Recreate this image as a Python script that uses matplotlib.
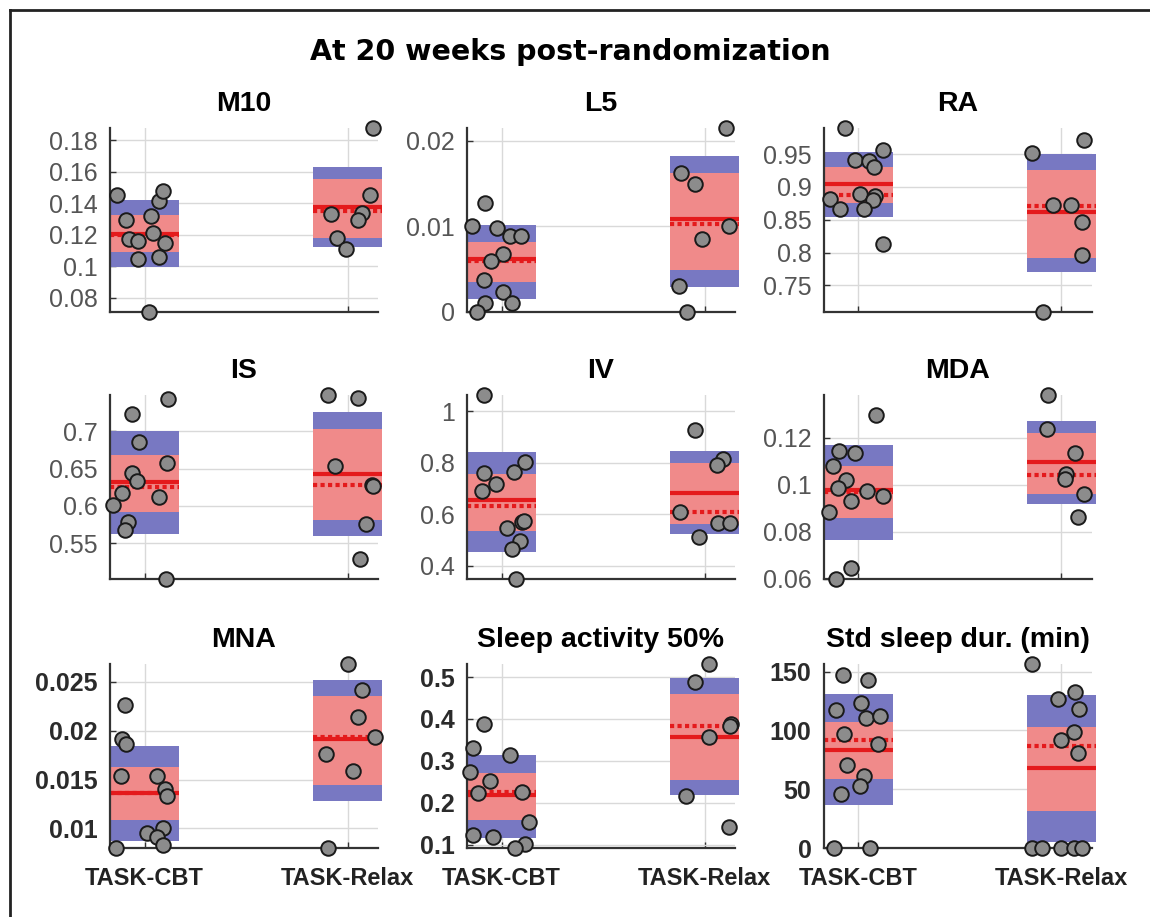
import matplotlib
matplotlib.use("Agg")
import matplotlib.pyplot as plt
from matplotlib.lines import Line2D

plt.rcParams['font.family'] = ['Liberation Sans', 'DejaVu Sans']

# group labels
groups = ["TASK-CBT", "TASK-Relax"]

# panel titles
titles = ["M10", "L5", "RA", "IS", "IV", "MDA", "MNA", "Sleep activity 50%", "Std sleep dur. (min)"]

# y ticks per panel
yticks = [
    [0.08, 0.1, 0.12, 0.14, 0.16, 0.18],
    [0, 0.01, 0.02],
    [0.75, 0.8, 0.85, 0.9, 0.95],
    [0.55, 0.6, 0.65, 0.7],
    [0.4, 0.6, 0.8, 1],
    [0.06, 0.08, 0.1, 0.12],
    [0.01, 0.015, 0.02, 0.025],
    [0.1, 0.2, 0.3, 0.4, 0.5],
    [0, 50, 100, 150],
]

# individual values (CBT, Relax) and their horizontal jitter
cbt_vals = [
    [0.145, 0.1296, 0.117, 0.116, 0.1046, 0.132, 0.121, 0.1415, 0.148, 0.115, 0.1056, 0.071],
    [0.0100, 0.0127, 0.0098, 0.0089, 0.0089, 0.0068, 0.0060, 0.0037, 0.0023, 0.0011, 0.0010, 0.0],
    [0.99, 0.941, 0.94, 0.93, 0.957, 0.882, 0.866, 0.89, 0.887, 0.88, 0.866, 0.8135],
    [0.723, 0.743, 0.6854, 0.6575, 0.6434, 0.6336, 0.6168, 0.601, 0.6124, 0.578, 0.5673, 0.5018],
    [1.064, 0.759, 0.691, 0.717, 0.765, 0.804, 0.547, 0.569, 0.575, 0.496, 0.467, 0.349],
    [0.1295, 0.1144, 0.1133, 0.1081, 0.1018, 0.0987, 0.0973, 0.0951, 0.0931, 0.0882, 0.0643, 0.0598],
    [0.0226, 0.0191, 0.0186, 0.0154, 0.0154, 0.0140, 0.0133, 0.00956, 0.0100, 0.0091, 0.0083, 0.0080],
    [0.387, 0.332, 0.3145, 0.274, 0.253, 0.223, 0.227, 0.155, 0.1235, 0.118, 0.1025, 0.0924],
    [146.7, 143, 117, 123.5, 110.4, 112.4, 97, 88, 70.5, 61.3, 52.4, 46, 0, 0],
]
cbt_jit = [
    [-0.135, -0.091, -0.075, -0.03, -0.03, 0.03, 0.04, 0.07, 0.09, 0.10, 0.07, 0.02],
    [-0.146, -0.082, -0.024, 0.04, 0.098, 0.005, -0.053, -0.087, 0.005, -0.082, 0.05, -0.121],
    [-0.067, -0.018, 0.05, 0.075, 0.12, -0.141, -0.091, 0.007, 0.08, 0.07, 0.026, 0.12],
    [-0.062, 0.116, -0.027, 0.11, -0.062, -0.037, -0.111, -0.155, 0.07, -0.081, -0.096, 0.106],
    [-0.087, -0.087, -0.097, -0.029, 0.059, 0.117, 0.025, 0.10, 0.11, 0.093, 0.054, 0.069],
    [0.085, -0.096, -0.018, -0.126, -0.062, -0.101, 0.041, 0.12, -0.038, -0.145, -0.038, -0.111],
    [-0.096, -0.111, -0.091, -0.116, 0.06, 0.10, 0.11, 0.01, 0.09, 0.06, 0.09, -0.14],
    [-0.087, -0.141, 0.04, -0.155, -0.058, -0.116, 0.103, 0.137, -0.141, -0.043, 0.117, 0.064],
    [-0.077, 0.046, -0.111, 0.012, 0.036, 0.105, -0.072, 0.095, -0.057, 0.026, 0.007, -0.087, -0.121, 0.056],
]
relax_vals = [
    [0.1877, 0.145, 0.133, 0.134, 0.129, 0.118, 0.111],
    [0.0215, 0.0162, 0.0150, 0.0085, 0.0100, 0.0030, 0.0],
    [0.972, 0.952, 0.872, 0.872, 0.846, 0.796, 0.7095],
    [0.7487, 0.744, 0.653, 0.628, 0.627, 0.575, 0.528],
    [0.928, 0.814, 0.791, 0.609, 0.5115, 0.567, 0.567],
    [0.1382, 0.1238, 0.1133, 0.1046, 0.1025, 0.0959, 0.0864],
    [0.0268, 0.0241, 0.0214, 0.0193, 0.0176, 0.0159, 0.0080],
    [0.531, 0.487, 0.387, 0.383, 0.356, 0.217, 0.1415],
    [156.4, 127, 132.7, 118, 98.5, 92, 81, 0, 0, 0, 0, 0],
]
relax_jit = [
    [0.125, 0.11, -0.08, 0.07, 0.05, -0.05, -0.01],
    [0.106, -0.118, -0.045, -0.01, 0.12, -0.128, -0.084],
    [0.11, -0.145, -0.042, 0.047, 0.10, 0.10, -0.09],
    [-0.096, 0.05, -0.062, 0.12, 0.125, 0.09, 0.06],
    [-0.045, 0.09, 0.063, -0.123, -0.026, 0.067, 0.126],
    [-0.066, -0.071, 0.067, 0.022, 0.018, 0.11, 0.08],
    [0.0, 0.07, 0.05, 0.135, -0.106, 0.027, -0.096],
    [0.02, -0.045, 0.13, 0.127, 0.02, -0.093, 0.12],
    [-0.144, -0.017, 0.067, 0.086, 0.062, -0.002, 0.082, -0.144, -0.095, -0.002, 0.062, 0.1],
]

# summary stats: (sd_lo, sd_hi, ci_lo, ci_hi, mean, median)
cbt_stats = [
    (0.0992, 0.142, 0.1092, 0.1327, 0.1206, 0.1196),
    (0.00154, 0.0102, 0.00346, 0.0082, 0.0062, 0.0059),
    (0.8535, 0.9535, 0.876, 0.93, 0.9045, 0.8885),
    (0.5628, 0.70, 0.5916, 0.6686, 0.6314, 0.6257),
    (0.455, 0.842, 0.537, 0.755, 0.654, 0.631),
    (0.0766, 0.1169, 0.0857, 0.1081, 0.0975, 0.097),
    (0.00876, 0.01846, 0.0109, 0.0163, 0.0136, 0.0136),
    (0.1157, 0.3153, 0.1586, 0.2724, 0.218, 0.225),
    (36.3, 130.5, 58.5, 107.3, 83, 92),
]
relax_stats = [
    (0.1123, 0.1627, 0.1179, 0.155, 0.1377, 0.135),
    (0.00288, 0.01827, 0.00492, 0.01623, 0.01085, 0.0103),
    (0.771, 0.95, 0.791, 0.926, 0.862, 0.871),
    (0.560, 0.726, 0.5814, 0.703, 0.643, 0.628),
    (0.522, 0.845, 0.563, 0.801, 0.682, 0.609),
    (0.0916, 0.127, 0.0959, 0.1221, 0.1095, 0.1042),
    (0.0128, 0.0252, 0.01446, 0.0235, 0.0191, 0.0193),
    (0.2194, 0.4985, 0.2545, 0.4587, 0.357, 0.383),
    (5, 130, 31.5, 102.6, 67.8, 86.5),
]

SD_COL = '#7878c2'
CI_COL = '#f08a8a'
RED = '#e41a1c'
HW = 0.17  # half width of boxes

fig = plt.figure(figsize=(11.5, 9.17), dpi=100)

lefts = [0.0957, 0.4061, 0.7165]
bottoms = [0.6598, 0.3686, 0.0752]
W, H = 0.233, 0.2007


def draw_group(ax, x0, vals, jit, st):
    sd_lo, sd_hi, ci_lo, ci_hi, mean, med = st
    ax.fill_between([x0 - HW, x0 + HW], sd_lo, sd_hi, color=SD_COL, lw=0, zorder=1, clip_on=False)
    ax.fill_between([x0 - HW, x0 + HW], ci_lo, ci_hi, color=CI_COL, lw=0, zorder=2, clip_on=False)
    ax.plot([x0 - HW, x0 + HW], [med, med], color=RED, lw=3, ls=(0, (1, 0.8)), zorder=3,
            solid_capstyle='butt', dash_capstyle='butt', clip_on=False)
    ax.plot([x0 - HW, x0 + HW], [mean, mean], color=RED, lw=3, zorder=3,
            solid_capstyle='butt', clip_on=False)
    xs = [x0 + j for j in jit]
    ax.scatter(xs, vals, s=110, facecolor='#8c8c8c', edgecolor='#1a1a1a', linewidth=1.4,
               zorder=4, clip_on=False)


for i in range(9):
    r, c = divmod(i, 3)
    ax = fig.add_axes([lefts[c], bottoms[r], W, H])
    draw_group(ax, 1, cbt_vals[i], cbt_jit[i], cbt_stats[i])
    draw_group(ax, 2, relax_vals[i], relax_jit[i], relax_stats[i])

    allv = cbt_vals[i] + relax_vals[i]
    ax.set_ylim(min(allv), max(allv))
    ax.set_xlim(0.83, 2.15)

    ax.set_yticks(yticks[i])
    bold = 'bold' if r == 2 else 'normal'
    tcol = '#2b2b2b' if r == 2 else '#555555'
    ax.set_yticklabels([f"{v:g}" for v in yticks[i]], fontsize=18, fontweight=bold, color=tcol)
    ax.set_xticks([1, 2])
    if r == 2:
        ax.set_xticklabels(groups, fontsize=17, fontweight='bold', color='#222222')
    else:
        ax.set_xticklabels([])

    ax.grid(True, color='#d9d9d9', lw=1, zorder=0)
    ax.set_axisbelow(True)
    for s in ['top', 'right']:
        ax.spines[s].set_visible(False)
    for s in ['left', 'bottom']:
        ax.spines[s].set_color('#333333')
        ax.spines[s].set_linewidth(1.6)
        ax.spines[s].set_zorder(3.5)
    ax.tick_params(axis='y', direction='in', length=4, width=1, color='#333333', pad=9)
    ax.tick_params(axis='x', direction='in', length=4, width=1, color='#333333', pad=14)
    ax.set_title(titles[i], fontsize=20.5, fontweight='bold', pad=12)

fig.text(0.496, 0.943, "At 20 weeks post-randomization", family='DejaVu Sans',
         fontsize=20.5, fontweight='bold', ha='center', va='center')

# outer frame
fig.add_artist(Line2D([0.0087, 1.0], [0.989, 0.989], color='#222222', lw=2))
fig.add_artist(Line2D([0.0087, 0.0087], [0.0, 0.989], color='#222222', lw=2))

fig.savefig("out.png", dpi=100)
